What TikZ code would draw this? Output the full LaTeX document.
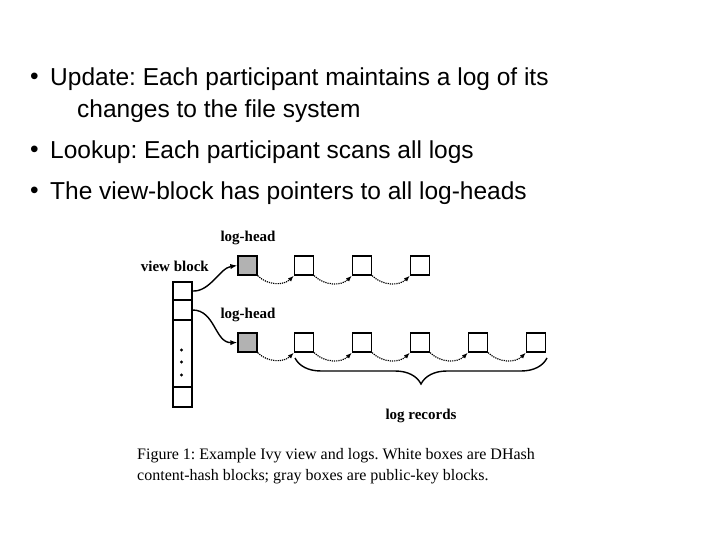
\documentclass[tikz,border=0pt]{standalone}
\usepackage{fontspec}
\setmainfont{Liberation Sans}
\newfontfamily\figfont{Liberation Serif}
\usetikzlibrary{positioning, arrows.meta, decorations.pathreplacing}
\tikzset{blk/.style={draw, line width=1.3pt, minimum size=19pt, inner sep=0pt},
	pkblk/.style={blk, fill=gray!60},
	cell/.style={draw, line width=1.3pt, minimum width=19pt, inner sep=0pt},
	bullet/.style={anchor=west, font=\fontsize{24.5}{28}\selectfont, inner sep=0pt},
	lbl/.style={font=\figfont\bfseries\fontsize{15}{17}\selectfont, inner sep=0pt},
	link/.style={densely dotted, line width=1.2pt, -{Latex[length=6pt]}}}
\frenchspacing
\begin{document}
\begin{tikzpicture}[x=1pt, y=-1pt]
	\useasboundingbox (0,0) rectangle (720,540);
	% bullets
	\node[bullet] at (30,79) {\textbullet};
	\node[bullet] (b1) at (50,79) {Update: Each participant maintains a log of its};
	\node[bullet] at (77,111) {changes to the file system};
	\node[bullet] at (30,152) {\textbullet};
	\node[bullet] (b2) at (50,152) {Lookup: Each participant scans all logs};
	\node[bullet] at (30,193) {\textbullet};
	\node[bullet] (b3) at (50,193) {The view-block has pointers to all log-heads};
	% view block
	\node[cell, minimum height=18pt] (v1) at (182.5,291) {};
	\node[cell, minimum height=20pt] (v2) at (182.5,310) {};
	\node[cell, minimum height=67pt] (v3) at (182.5,353.5) {};
	\node[cell, minimum height=20pt] (v4) at (182.5,397) {};
	\foreach \y in {350,362,375} \fill (181.5,\y) circle (1.6pt);
	\node[lbl, anchor=east] (vb) at (209,266) {view block};
	% first log
	\node[pkblk] (h1) at (247.5,265.5) {};
	\foreach \x [count=\i] in {304,362,420} \node[blk] (a\i) at (\x,265.5) {};
	\node[lbl] (lh1) at (248,238) {log-head};
	% second log
	\node[pkblk] (h2) at (247.5,342.5) {};
	\foreach \x [count=\i] in {304,362,420,478,536} \node[blk] (c\i) at (\x,342.5) {};
	\node[lbl] (lh2) at (248,315) {log-head};
	% pointers
	\draw[line width=1.4pt, -{Latex[length=7pt]}] (v1.east) .. controls (210,292) and (220,268) .. (h1.west);
	\draw[line width=1.4pt, -{Latex[length=7pt]}] (v2.east) .. controls (215,310) and (215,343) .. (h2.west);
	\draw[link] (h1.south east) to[out=-45, in=-135] (a1.south west);
	\draw[link] (a1.south east) to[out=-45, in=-135] (a2.south west);
	\draw[link] (a2.south east) to[out=-45, in=-135] (a3.south west);
	\draw[link] (h2.south east) to[out=-45, in=-135] (c1.south west);
	\foreach \i [evaluate=\i as \j using int(\i+1)] in {1,...,4}
		\draw[link] (c\i.south east) to[out=-45, in=-135] (c\j.south west);
	% log records
	\draw[line width=1.4pt, decorate, decoration={brace, mirror, amplitude=26pt}] (295,358) -- (547,358);
	\node[lbl] (lr) at (421,416) {log records};
	% caption
	\node[anchor=west, inner sep=0pt, font=\figfont\fontsize{16}{21}\selectfont, align=left] (cap) at (137,466)
		{Figure 1: Example Ivy view and logs. White boxes are DHash\\content-hash blocks; gray boxes are public-key blocks.};
\end{tikzpicture}
\end{document}
